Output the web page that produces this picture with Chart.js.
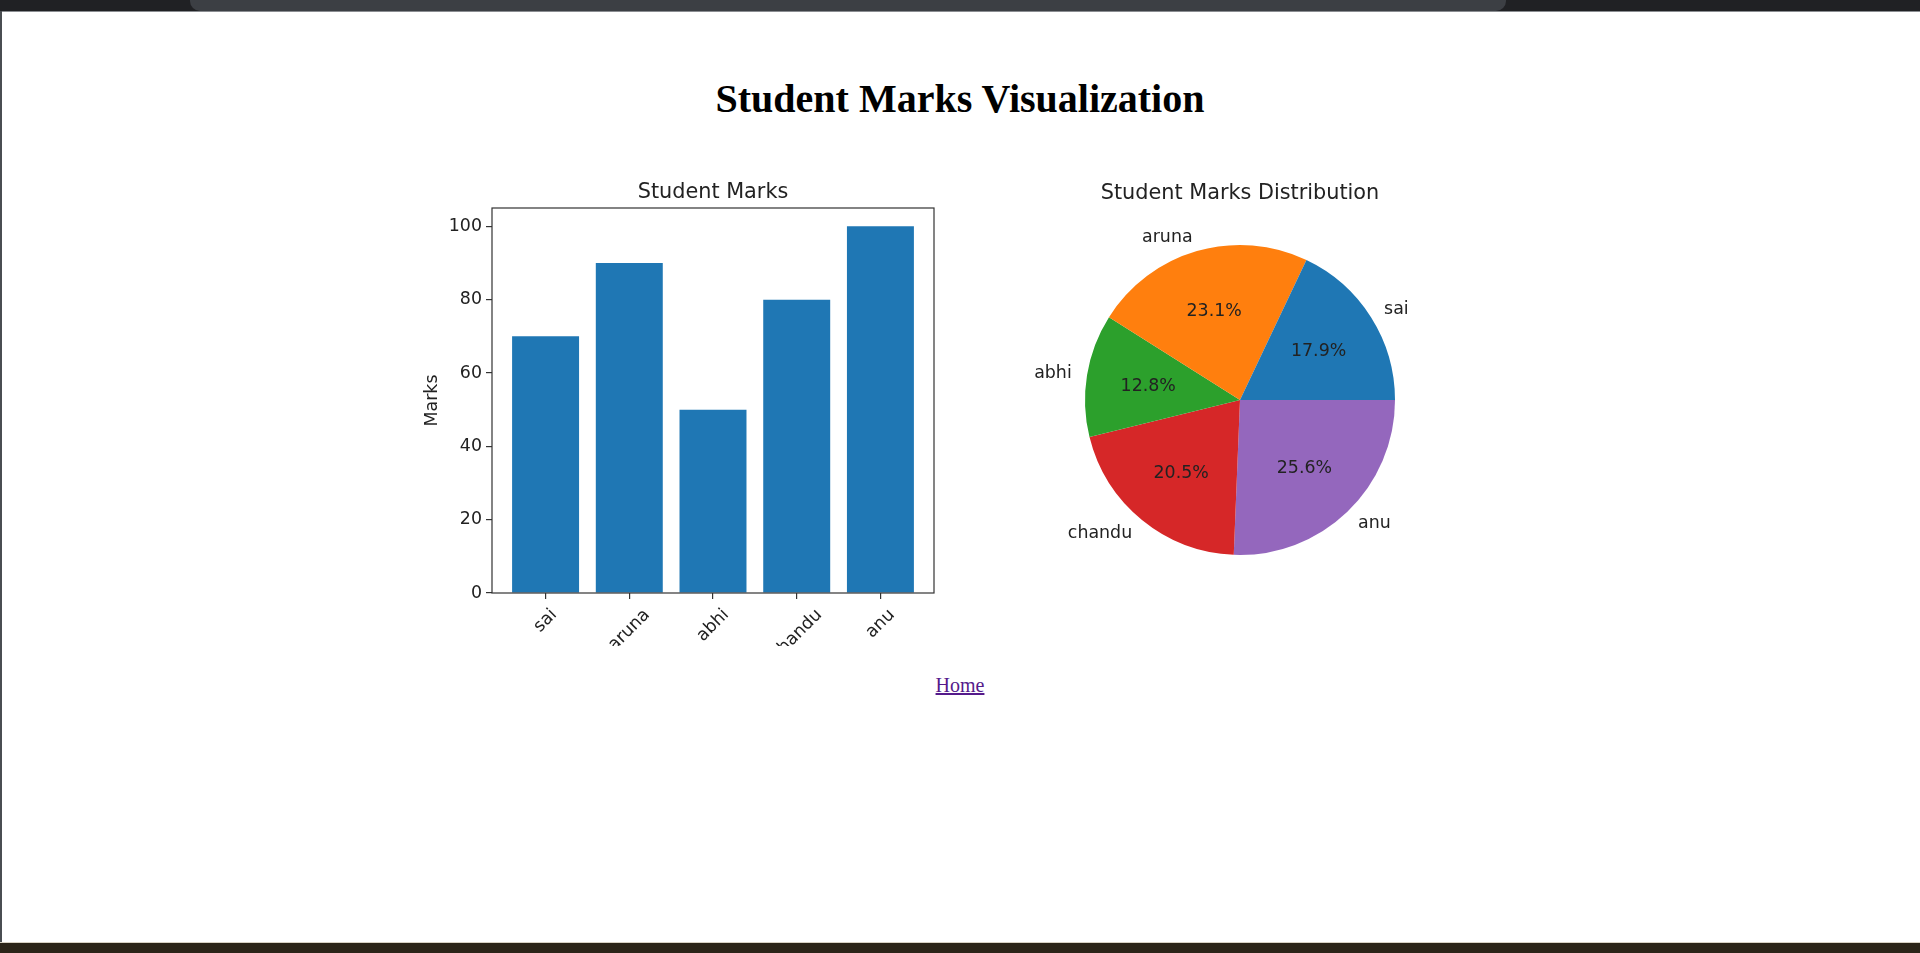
<!DOCTYPE html>
<html>
<head>
<meta charset="utf-8">
<title>Student Marks Visualization</title>
<script src="https://cdn.jsdelivr.net/npm/chart.js@4.4.1/dist/chart.umd.min.js"></script>
<style>
html,body{margin:0;padding:0;background:#fff;width:1920px;height:953px;overflow:hidden;}
#top{position:absolute;left:0;top:0;width:1920px;height:11px;background:#202124;}
#tab{position:absolute;left:190px;top:0;width:1316px;height:11px;background:#3c3f44;border-radius:0 0 10px 10px;}
#topline{position:absolute;left:0;top:11px;width:1920px;height:1px;background:#8a8d91;}
#leftb{position:absolute;left:0;top:11px;width:2px;height:932px;background:#4a4e52;}
#botline{position:absolute;left:0;top:942px;width:1920px;height:1px;background:#d8d2c4;}
#bottom{position:absolute;left:0;top:943px;width:1920px;height:10px;background:#2b2418;}
#h{position:absolute;left:0;top:79px;width:1920px;text-align:center;font:bold 40px/40px "Liberation Serif";color:#000;margin:0;}
#home{position:absolute;left:0;top:675px;width:1920px;text-align:center;font:20px/20px "Liberation Serif";}
#home a{color:#551A8B;text-decoration:underline;}
canvas{position:absolute;}
#bar{left:400px;top:160px;}
#pie{left:980px;top:160px;}
</style>
</head>
<body>
<div id="top"></div><div id="tab"></div><div id="topline"></div>
<div id="leftb"></div>
<div id="botline"></div><div id="bottom"></div>
<h1 id="h">Student Marks Visualization</h1>
<canvas id="bar" width="560" height="486"></canvas>
<canvas id="pie" width="480" height="420"></canvas>
<div id="home"><a href="#">Home</a></div>
<script>
const categories = ['sai', 'aruna', 'abhi', 'chandu', 'anu'];
const marks = [70, 90, 50, 80, 100];
const yTicks = [0, 20, 40, 60, 80, 100];
const pieColors = ['#1f77b4', '#ff7f0e', '#2ca02c', '#d62728', '#9467bd'];
const barColor = '#1f77b4';
const barTitle = 'Student Marks';
const pieTitle = 'Student Marks Distribution';
const yLabel = 'Marks';

const FONT = 'DejaVu Sans';
const TICK_FS = 17.4;
const TITLE_FS = 20.8;
const TXT = '#222';

const barDeco = {
  id: 'barDeco',
  afterDraw(chart) {
    const ctx = chart.ctx, a = chart.chartArea, xs = chart.scales.x;
    ctx.save();
    ctx.strokeStyle = '#333';
    ctx.lineWidth = 1.2;
    ctx.strokeRect(a.left, a.top, a.right - a.left, a.bottom - a.top);
    ctx.fillStyle = TXT;
    ctx.font = TITLE_FS + 'px "' + FONT + '"';
    ctx.textAlign = 'center';
    ctx.textBaseline = 'alphabetic';
    ctx.fillText(barTitle, (a.left + a.right) / 2, a.top - 10.4);
    ctx.font = TICK_FS + 'px "' + FONT + '"';
    ctx.save();
    ctx.translate(a.left - 60, (a.top + a.bottom) / 2);
    ctx.rotate(-Math.PI / 2);
    ctx.textBaseline = 'middle';
    ctx.fillText(yLabel, 0, 0);
    ctx.restore();
    const h = TICK_FS * 1.164;
    categories.forEach((c, i) => {
      const x = xs.getPixelForValue(i);
      const w = ctx.measureText(c).width;
      const cy = a.bottom + 12 + (w + h) / (2 * Math.SQRT2);
      ctx.save();
      ctx.translate(x, cy);
      ctx.rotate(-Math.PI / 4);
      ctx.textAlign = 'center';
      ctx.textBaseline = 'middle';
      ctx.fillText(c, 0, 0);
      ctx.restore();
    });
    ctx.restore();
  }
};

new Chart(document.getElementById('bar'), {
  type: 'bar',
  data: {
    datasets: [{
      data: categories.map((c, i) => ({x: i, y: marks[i]})),
      backgroundColor: barColor,
      borderWidth: 0,
      barPercentage: 0.8,
      categoryPercentage: 1.0
    }]
  },
  options: {
    responsive: false,
    animation: false,
    events: [],
    layout: {padding: {top: 48, right: 26, left: 0, bottom: 0}},
    plugins: {legend: {display: false}, tooltip: {enabled: false}, title: {display: false}},
    scales: {
      x: {
        type: 'linear', min: -0.64, max: 4.64, offset: false,
        afterBuildTicks: s => { s.ticks = categories.map((c, i) => ({value: i})); },
        afterFit: s => { s.height = 53; },
        ticks: {display: false},
        grid: {offset: false, drawOnChartArea: false, drawTicks: true, tickLength: 6, color: '#333', lineWidth: 1.2},
        border: {display: false}
      },
      y: {
        min: 0, max: 105,
        afterBuildTicks: s => { s.ticks = yTicks.map(v => ({value: v})); },
        afterFit: s => { s.width = 92; },
        ticks: {font: {family: FONT, size: TICK_FS}, color: TXT, padding: 4},
        grid: {drawOnChartArea: false, drawTicks: true, tickLength: 6, color: '#333', lineWidth: 1.2},
        border: {display: false}
      }
    }
  },
  plugins: [barDeco]
});

// pie: matplotlib draws counter-clockwise from 3 o'clock; Chart.js draws clockwise,
// so feed the slices in reverse order starting at 3 o'clock.
const pieLabels = categories.slice().reverse();
const pieValues = marks.slice().reverse();
const pieCols = pieColors.slice().reverse();
const total = marks.reduce((s, v) => s + v, 0);

const pieDeco = {
  id: 'pieDeco',
  afterDraw(chart) {
    const ctx = chart.ctx;
    const meta = chart.getDatasetMeta(0);
    ctx.save();
    ctx.fillStyle = TXT;
    ctx.font = TITLE_FS + 'px "' + FONT + '"';
    ctx.textAlign = 'center';
    ctx.textBaseline = 'alphabetic';
    const c0 = meta.data[0];
    ctx.fillText(pieTitle, c0.x, c0.y - c0.outerRadius * 1.25 - 7);
    ctx.font = TICK_FS + 'px "' + FONT + '"';
    ctx.textBaseline = 'middle';
    meta.data.forEach((arc, i) => {
      const p = arc.getProps(['x', 'y', 'startAngle', 'endAngle', 'outerRadius'], true);
      const mid = (p.startAngle + p.endAngle) / 2;
      const cx = Math.cos(mid), sy = Math.sin(mid);
      ctx.textAlign = cx > 0 ? 'left' : 'right';
      ctx.fillText(pieLabels[i], p.x + 1.1 * p.outerRadius * cx, p.y + 1.1 * p.outerRadius * sy + 1);
      ctx.textAlign = 'center';
      const pct = (pieValues[i] / total * 100).toFixed(1) + '%';
      ctx.fillText(pct, p.x + 0.6 * p.outerRadius * cx, p.y + 0.6 * p.outerRadius * sy + 1);
    });
    ctx.restore();
  }
};

new Chart(document.getElementById('pie'), {
  type: 'pie',
  data: {
    labels: pieLabels,
    datasets: [{data: pieValues, backgroundColor: pieCols, borderWidth: 0, hoverOffset: 0, offset: 0}]
  },
  options: {
    responsive: false,
    animation: false,
    events: [],
    rotation: 90,
    layout: {padding: {left: 105, right: 65, top: 85, bottom: 25}},
    plugins: {legend: {display: false}, tooltip: {enabled: false}, title: {display: false}}
  },
  plugins: [pieDeco]
});
</script>
</body>
</html>
